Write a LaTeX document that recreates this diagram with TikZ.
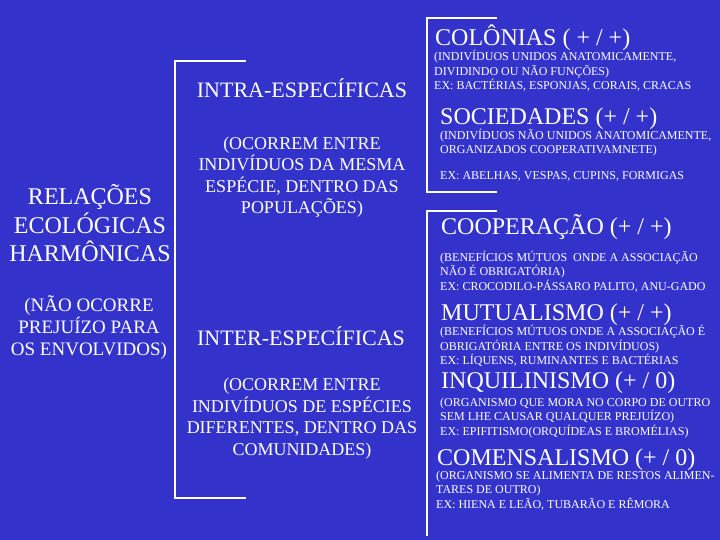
\documentclass[tikz,border=0pt]{standalone}
\usepackage{fontspec}
\setmainfont{Liberation Serif}
\definecolor{fundo}{RGB}{51,51,204}
\tikzset{
  titulo/.style={text=white, inner sep=0, anchor=base west, font=\fontsize{24}{28}\selectfont},
  grupo/.style={text=white, inner sep=0, anchor=base, font=\fontsize{22}{26}\selectfont},
  nota/.style={text=white, inner sep=0, anchor=base, align=center, font=\fontsize{18}{21.5}\selectfont},
  detalhe/.style={text=white, inner sep=0, anchor=base west, align=left, font=\fontsize{12}{14.5}\selectfont},
  chave/.style={draw=white, line width=1.2pt}
}

\begin{document}
\begin{tikzpicture}[x=1pt, y=-1pt]
  \fill[fundo] (0,0) rectangle (720,540);
  % coluna da esquerda (base = ultima linha)
  \node[nota, font=\fontsize{24}{28}\selectfont] (relacoes) at (90,261) {RELAÇÕES\\ECOLÓGICAS\\HARMÔNICAS};
  \node[nota, font=\fontsize{19}{20}\selectfont] (prejuizo) at (89,355) {(NÃO OCORRE\\PREJUÍZO PARA\\[2pt]OS ENVOLVIDOS)};
  \draw[chave] (246,61) -- (175,61) -- (175,498) -- (246,498);
  % coluna do meio
  \node[grupo] (intra) at (302,98) {INTRA-ESPECÍFICAS};
  \node[nota] (intranota) at (302,214) {(OCORREM ENTRE\\INDIVÍDUOS DA MESMA\\ESPÉCIE, DENTRO DAS\\POPULAÇÕES)};
  \node[grupo] (inter) at (301,345) {INTER-ESPECÍFICAS};
  \node[nota] (internota) at (302,455) {(OCORREM ENTRE\\INDIVÍDUOS DE ESPÉCIES\\DIFERENTES, DENTRO DAS\\COMUNIDADES)};
  \draw[chave] (497,18) -- (427,18) -- (427,192) -- (497,192);
  \draw[chave] (497,211) -- (427,211) -- (427,536);
  % coluna da direita
  \node[titulo] (colonias) at (435,46) {COLÔNIAS ( + / +)};
  \node[detalhe] (coloniasnota) at (434,90) {(INDIVÍDUOS UNIDOS ANATOMICAMENTE,\\DIVIDINDO OU NÃO FUNÇÕES)\\EX: BACTÉRIAS, ESPONJAS, CORAIS, CRACAS};
  \node[titulo] (sociedades) at (440,124.5) {SOCIEDADES (+ / +)};
  \node[detalhe] (sociedadesnota) at (440,179.5) {(INDIVÍDUOS NÃO UNIDOS ANATOMICAMENTE,\\ORGANIZADOS COOPERATIVAMNETE)\\[11pt]EX: ABELHAS, VESPAS, CUPINS, FORMIGAS};
  \node[titulo] (cooperacao) at (441,235) {COOPERAÇÃO (+ / +)};
  \node[detalhe] (cooperacaonota) at (440,290) {(BENEFÍCIOS MÚTUOS\ \ ONDE A ASSOCIAÇÃO\\NÃO É OBRIGATÓRIA)\\EX: CROCODILO-PÁSSARO PALITO, ANU-GADO};
  \node[titulo] (mutualismo) at (441,320) {MUTUALISMO (+ / +)};
  \node[detalhe] (mutualismonota) at (440,364.5) {(BENEFÍCIOS MÚTUOS ONDE A ASSOCIAÇÃO É\\OBRIGATÓRIA ENTRE OS INDIVÍDUOS)\\EX: LÍQUENS, RUMINANTES E BACTÉRIAS};
  \node[titulo] (inquilinismo) at (441,388) {INQUILINISMO (+ / 0)};
  \node[detalhe] (inquilinismonota) at (440,435) {(ORGANISMO QUE MORA NO CORPO DE OUTRO\\SEM LHE CAUSAR QUALQUER PREJUÍZO)\\EX: EPIFITISMO(ORQUÍDEAS E BROMÉLIAS)};
  \node[titulo] (comensalismo) at (437,465) {COMENSALISMO (+ / 0)};
  \node[detalhe] (comensalismonota) at (436,508) {(ORGANISMO SE ALIMENTA DE RESTOS ALIMEN-\\TARES DE OUTRO)\\EX: HIENA E LEÃO, TUBARÃO E RÊMORA};
\end{tikzpicture}
\end{document}
